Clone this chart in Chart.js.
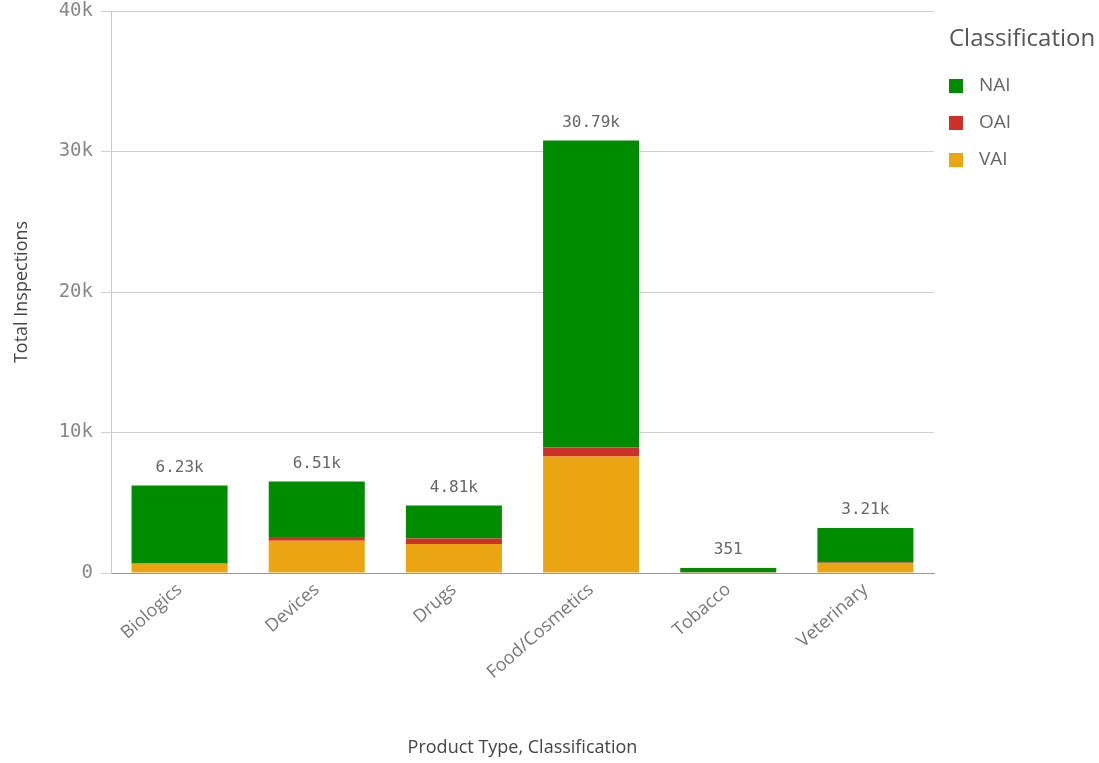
<!DOCTYPE html>
<html>
<head>
<meta charset="utf-8">
<title>Total Inspections by Product Type</title>
<script src="https://cdn.jsdelivr.net/npm/chart.js@4.4.0/dist/chart.umd.min.js"></script>
<style>
  html, body { margin: 0; padding: 0; background: #fff; }
  #wrap { width: 1099px; height: 763px; position: relative; }
</style>
</head>
<body>
<div id="wrap"><canvas id="inspChart"></canvas></div>
<script>
// product types and inspection counts per classification
const categories = ["Biologics", "Devices", "Drugs", "Food/Cosmetics", "Tobacco", "Veterinary"];
const vaiCounts = [660, 2300, 2060, 8290, 40, 710];
const oaiCounts = [20, 260, 400, 640, 5, 40];
const naiCounts = [5550, 3950, 2350, 21860, 306, 2460];
const yTicks = [0, 10000, 20000, 30000, 40000];

const colors = { NAI: "#008c00", OAI: "#d0302a", VAI: "#eba512" };
const legendOrder = ["NAI", "OAI", "VAI"];

const monoFont = "'DejaVu Sans Mono', monospace";
const textFont = "'Open Sans', sans-serif";

function fmtK(v) {
  if (v === 0) return "0";
  if (v >= 1000) {
    const k = v / 1000;
    return (Number.isInteger(k) ? k : k.toFixed(2)) + "k";
  }
  return String(v);
}

// totals written above each stacked bar
const totalLabels = {
  id: "totalLabels",
  afterDatasetsDraw(chart) {
    const ctx = chart.ctx;
    const topMeta = chart.getDatasetMeta(chart.data.datasets.length - 1);
    ctx.save();
    ctx.font = "16px " + monoFont;
    ctx.fillStyle = "#666";
    ctx.textAlign = "center";
    ctx.textBaseline = "bottom";
    categories.forEach((c, i) => {
      const total = vaiCounts[i] + oaiCounts[i] + naiCounts[i];
      const bar = topMeta.data[i];
      ctx.fillText(fmtK(total), bar.x, bar.y - 10);
    });
    ctx.restore();
  }
};

// legend on the right with a title
const sideLegend = {
  id: "sideLegend",
  afterDraw(chart) {
    const ctx = chart.ctx;
    const x = 949;
    ctx.save();
    ctx.font = "24px " + textFont;
    ctx.fillStyle = "#555";
    ctx.textAlign = "left";
    ctx.textBaseline = "middle";
    ctx.fillText("Classification", x, 39);
    ctx.font = "19px " + textFont;
    legendOrder.forEach((name, i) => {
      const ds = chart.data.datasets.find(d => d.label === name);
      const cy = 86 + i * 37;
      ctx.fillStyle = ds.backgroundColor;
      ctx.fillRect(x, cy - 7, 14, 14);
      ctx.fillStyle = "#666";
      ctx.fillText(name, x + 30, cy);
    });
    ctx.restore();
  }
};

const ctx = document.getElementById("inspChart").getContext("2d");
new Chart(ctx, {
  type: "bar",
  data: {
    labels: categories,
    datasets: [
      { label: "VAI", data: vaiCounts, backgroundColor: colors.VAI },
      { label: "OAI", data: oaiCounts, backgroundColor: colors.OAI },
      { label: "NAI", data: naiCounts, backgroundColor: colors.NAI }
    ]
  },
  options: {
    responsive: true,
    maintainAspectRatio: false,
    animation: false,
    layout: { padding: { top: 11, right: 165, bottom: 0, left: 0 } },
    datasets: { bar: { categoryPercentage: 0.7, barPercentage: 1 } },
    plugins: {
      legend: { display: false },
      tooltip: { enabled: false }
    },
    scales: {
      x: {
        stacked: true,
        grid: { display: false, drawTicks: false },
        border: { color: "#999" },
        ticks: {
          color: "#777",
          font: { family: textFont, size: 18 },
          minRotation: 41,
          maxRotation: 41,
          padding: 6
        },
        title: {
          display: true,
          text: "Product Type, Classification",
          color: "#444",
          font: { family: textFont, size: 18 },
          padding: { top: 0, bottom: 4 }
        },
        afterFit(scale) { scale.height = 190; }
      },
      y: {
        stacked: true,
        min: 0,
        max: 40000,
        afterBuildTicks(scale) {
          scale.ticks = yTicks.map(v => ({ value: v }));
        },
        grid: { color: "#d0d0d0", tickLength: 10 },
        border: { color: "#c8c8c8" },
        ticks: {
          color: "#888",
          font: { family: monoFont, size: 19 },
          padding: 8,
          callback: v => fmtK(v)
        },
        title: {
          display: true,
          text: "Total Inspections",
          color: "#444",
          font: { family: textFont, size: 18 },
          padding: { top: 11, bottom: 0 }
        },
        afterFit(scale) {
          scale.width = 111;
          scale.paddingTop = 0;
          scale.paddingBottom = 0;
        }
      }
    }
  },
  plugins: [totalLabels, sideLegend]
});
</script>
</body>
</html>
